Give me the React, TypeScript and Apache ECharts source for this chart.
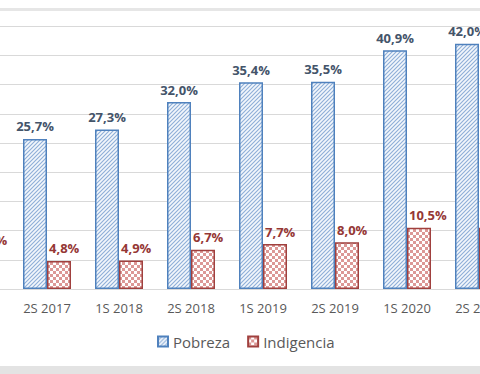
import React, { useEffect, useRef } from "react";
import * as echarts from "echarts";

const categories = ["1S 2017", "2S 2017", "1S 2018", "2S 2018", "1S 2019", "2S 2019", "1S 2020", "2S 2020"];
const pobreza = [28.6, 25.7, 27.3, 32.0, 35.4, 35.5, 40.9, 42.0];
const indigencia = [6.2, 4.8, 4.9, 6.7, 7.7, 8.0, 10.5, 10.5];
const seriesNames = ["Pobreza", "Indigencia"];

const fmt = (v: number) => v.toFixed(1).replace(".", ",") + "%";

const svgUrl = (s: string) => "data:image/svg+xml;charset=utf-8," + encodeURIComponent(s);

const hatchSvg = svgUrl(
  "<svg xmlns='http://www.w3.org/2000/svg' width='4' height='4'>" +
    "<rect width='4' height='4' fill='#f3f7fc'/>" +
    "<path d='M-1,1 L1,-1 M0,4 L4,0 M3,5 L5,3' stroke='#8eaed8' stroke-width='1.1'/>" +
    "</svg>"
);
const checkerSvg = svgUrl(
  "<svg xmlns='http://www.w3.org/2000/svg' width='6' height='6'>" +
    "<rect width='6' height='6' fill='#ffffff'/>" +
    "<rect width='3' height='3' fill='#dc9896'/>" +
    "<rect x='3' y='3' width='3' height='3' fill='#dc9896'/>" +
    "</svg>"
);

export default function App() {
  const ref = useRef<HTMLDivElement>(null);
  useEffect(() => {
    if (!ref.current) return;
    const chart = echarts.init(ref.current, undefined, { renderer: "svg" });
    const font = "'Open Sans', 'Noto Sans', sans-serif";
    chart.setOption({
      animation: false,
      backgroundColor: "#ffffff",
      textStyle: { fontFamily: font },
      grid: { left: 39, right: 65, top: 17, bottom: 85, containLabel: false },
      legend: {
        data: seriesNames,
        left: 252,
        top: 349,
        icon: "rect",
        itemWidth: 10,
        itemHeight: 10,
        itemGap: 17,
        textStyle: { color: "#595959", fontSize: 15, fontFamily: font },
      },
      graphic: [
        { type: "rect", shape: { x: 0, y: 28, width: 680, height: 3 }, style: { fill: "#e6e6e6" } },
        { type: "rect", shape: { x: 0, y: 386, width: 680, height: 8 }, style: { fill: "#e3e3e3" } },
      ],
      xAxis: {
        type: "category",
        data: categories,
        axisLine: { show: true, lineStyle: { color: "#d9d9d9", width: 1 } },
        axisTick: { show: false },
        axisLabel: { color: "#595959", fontSize: 13, margin: 12, fontFamily: font },
      },
      yAxis: {
        type: "value",
        min: 0,
        max: 50,
        interval: 5,
        axisLabel: { show: false },
        axisLine: { show: false },
        axisTick: { show: false },
        splitLine: { lineStyle: { color: "#d9d9d9", width: 1 } },
      },
      series: [
        {
          name: seriesNames[0],
          type: "bar",
          data: pobreza,
          barWidth: 24,
          barGap: "0%",
          itemStyle: {
            color: { image: hatchSvg, repeat: "repeat", imageWidth: 4, imageHeight: 4 },
            borderColor: "#4f81bd",
            borderWidth: 1.5,
          },
          label: {
            show: true,
            position: "top",
            distance: 6,
            formatter: (p: any) => fmt(p.value),
            color: "#44546a",
            fontWeight: "bold",
            fontSize: 13,
            fontFamily: font,
          },
        },
        {
          name: seriesNames[1],
          type: "bar",
          data: indigencia,
          barWidth: 24,
          barGap: "0%",
          itemStyle: {
            color: { image: checkerSvg, repeat: "repeat", imageWidth: 6, imageHeight: 6 },
            borderColor: "#a0403e",
            borderWidth: 1.5,
          },
          label: {
            show: true,
            position: "top",
            distance: 6,
            align: "left",
            offset: [-10, 0],
            formatter: (p: any) => fmt(p.value),
            color: "#953735",
            fontWeight: "bold",
            fontSize: 13,
            fontFamily: font,
          },
        },
      ],
    });
    return () => chart.dispose();
  }, []);
  return (
    <div style={{ position: "fixed", left: 0, top: 0, width: 480, height: 374, overflow: "hidden", background: "#fff" }}>
      <div ref={ref} style={{ position: "absolute", left: -100, top: -20, width: 680, height: 394 }} />
    </div>
  );
}
